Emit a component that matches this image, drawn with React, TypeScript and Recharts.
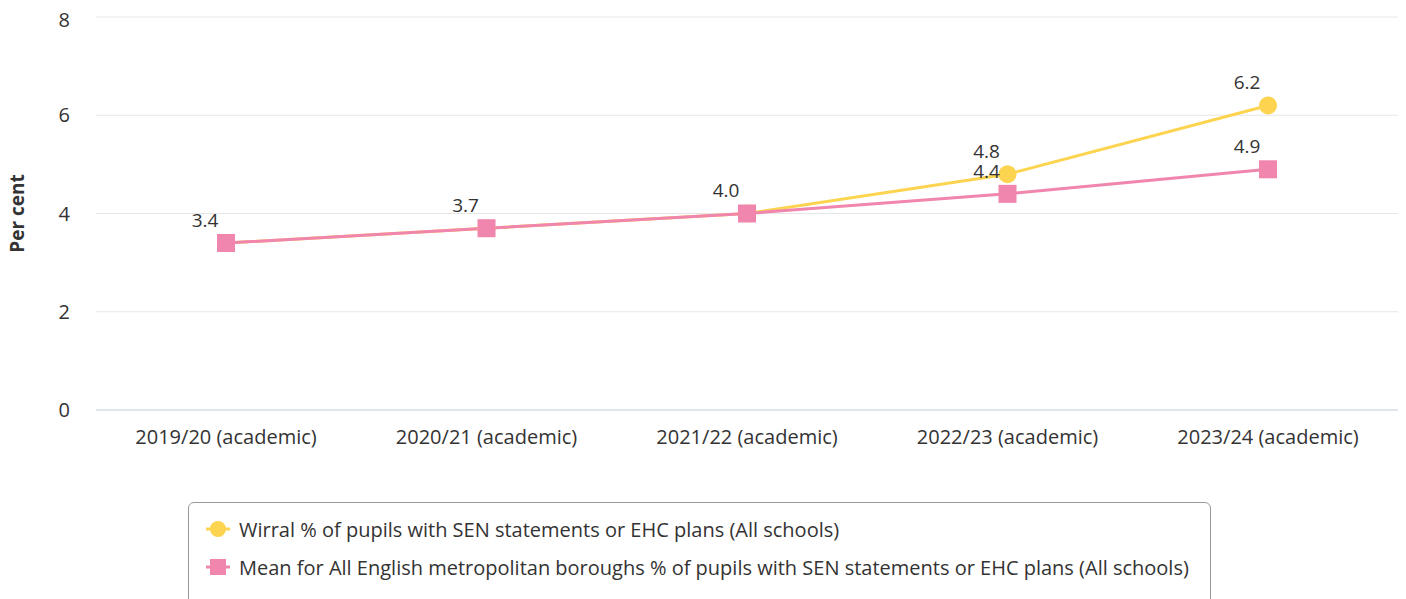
import React from 'react';
import { LineChart, Line, XAxis, YAxis, CartesianGrid, LabelList, ReferenceLine } from 'recharts';

const years = ['2019/20 (academic)', '2020/21 (academic)', '2021/22 (academic)', '2022/23 (academic)', '2023/24 (academic)'];
const wirral = [3.4, 3.7, 4.0, 4.8, 6.2];
const metMean = [3.4, 3.7, 4.0, 4.4, 4.9];
const yTicks = [0, 2, 4, 6, 8];

const WIRRAL_NAME = 'Wirral % of pupils with SEN statements or EHC plans (All schools)';
const MEAN_NAME = 'Mean for All English metropolitan boroughs % of pupils with SEN statements or EHC plans (All schools)';
const YELLOW = '#fdd44f';
const PINK = '#f085ad';
const FONT = '"Open Sans", sans-serif';
const TEXT = '#333333';

const data = years.map((y, i) => ({ year: y, wirral: wirral[i], mean: metMean[i] }));

const CircleDot = (props: any) => {
  const { cx, cy } = props;
  if (cx == null || cy == null) return null;
  return <circle cx={cx} cy={cy} r={9} fill={YELLOW} />;
};

const SquareDot = (props: any) => {
  const { cx, cy } = props;
  if (cx == null || cy == null) return null;
  return <rect x={cx - 9} y={cy - 9} width={18} height={18} fill={PINK} />;
};

const makeLabel = (skipSame: boolean) => (props: any) => {
  const { x, y, value, index } = props;
  if (skipSame && wirral[index] === metMean[index]) return null;
  return (
    <text x={x - 21} y={y - 23} dy="0.35em" textAnchor="middle" fill={TEXT} fontSize={19} fontFamily={FONT}>
      {Number(value).toFixed(1)}
    </text>
  );
};

const AxisTitle = (props: any) => {
  const { viewBox } = props;
  const cy = viewBox.y + viewBox.height / 2;
  return (
    <text x={9} y={cy} transform={`rotate(-90, 9, ${cy})`} dy="0.35em" textAnchor="middle" fill={TEXT} fontSize={19} fontWeight={700} fontFamily={FONT}>
      Per cent
    </text>
  );
};

const LegendRow = ({ color, square, name }: { color: string; square: boolean; name: string }) => (
  <div style={{ display: 'flex', alignItems: 'center', height: 38 }}>
    <svg width={26} height={20} style={{ marginRight: 8 }}>
      <line x1={1} y1={10} x2={25} y2={10} stroke={color} strokeWidth={3} />
      {square ? <rect x={5} y={2} width={16} height={16} fill={color} /> : <circle cx={13} cy={10} r={8} fill={color} />}
    </svg>
    <span>{name}</span>
  </div>
);

export default function App() {
  return (
    <div style={{ position: 'relative', width: 1398, height: 591, fontFamily: FONT }}>
      <LineChart width={1398} height={480} data={data} margin={{ top: 9, right: 8, left: 0, bottom: 38 }}>
        <CartesianGrid vertical={false} stroke="#e6e6e6" />
        <XAxis
          dataKey="year"
          axisLine={false}
          tickLine={false}
          tickMargin={14}
          height={40}
          tick={{ fill: TEXT, fontSize: 20, fontFamily: FONT }}
          padding={{ left: 130, right: 130 }}
        />
        <YAxis
          domain={[0, 8]}
          ticks={yTicks}
          width={88}
          axisLine={false}
          tickLine={false}
          tickMargin={20}
          tick={{ fill: TEXT, fontSize: 20, fontFamily: FONT }}
          label={<AxisTitle />}
        />
        <ReferenceLine y={0} stroke="#ccd6eb" strokeWidth={1} />
        <Line dataKey="wirral" name={WIRRAL_NAME} stroke={YELLOW} strokeWidth={3} dot={<CircleDot />} activeDot={false} isAnimationActive={false}>
          <LabelList dataKey="wirral" content={makeLabel(false)} />
        </Line>
        <Line dataKey="mean" name={MEAN_NAME} stroke={PINK} strokeWidth={3} dot={<SquareDot />} activeDot={false} isAnimationActive={false}>
          <LabelList dataKey="mean" content={makeLabel(true)} />
        </Line>
      </LineChart>
      <div
        style={{
          position: 'absolute',
          left: 180,
          top: 494,
          width: 1023,
          height: 110,
          border: '1px solid #999999',
          borderRadius: 6,
          boxSizing: 'border-box',
          padding: '7px 0 0 16px',
          color: TEXT,
          fontSize: 20,
        }}
      >
        <LegendRow color={YELLOW} square={false} name={WIRRAL_NAME} />
        <LegendRow color={PINK} square={true} name={MEAN_NAME} />
      </div>
    </div>
  );
}
